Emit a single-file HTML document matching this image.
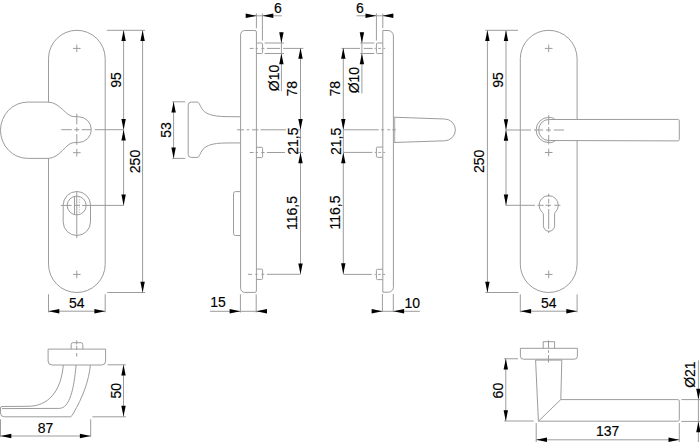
<!DOCTYPE html>
<html><head><meta charset="utf-8"><style>
html,body{margin:0;padding:0;background:#fff;}
svg{display:block;}
text{font-family:"Liberation Sans",sans-serif;fill:#000;stroke:#000;stroke-width:0.15px;}
</style></head><body>
<svg width="700" height="442" viewBox="0 0 700 442">
<rect width="700" height="442" fill="#fff"/>
<path d="M48.5,58.650000000000006 A28.35,28.35 0 0 1 105.2,58.650000000000006 L105.2,264.15 A28.35,28.35 0 0 1 48.5,264.15 Z" stroke="#9c9c9c" stroke-width="1.0" fill="none"/>
<path d="M48,102.1 L27.7,102.1 A27.2,28.15 0 0 0 27.7,158.4 L48,158.4 C60,158.4 66,142.6 73.7,142.6 L78.4,142.5 A12.9,12.9 0 0 0 78.4,116.7 L73.7,116.6 C66,116.6 60,102.1 48,102.1 Z" stroke="#9c9c9c" stroke-width="1.0" fill="#fff"/>
<line x1="73.0" y1="48.4" x2="80.6" y2="48.4" stroke="#9c9c9c" stroke-width="1.0"/>
<line x1="76.8" y1="44.6" x2="76.8" y2="52.199999999999996" stroke="#9c9c9c" stroke-width="1.0"/>
<line x1="73.0" y1="152.7" x2="80.6" y2="152.7" stroke="#9c9c9c" stroke-width="1.0"/>
<line x1="76.8" y1="148.89999999999998" x2="76.8" y2="156.5" stroke="#9c9c9c" stroke-width="1.0"/>
<line x1="73.0" y1="274.4" x2="80.6" y2="274.4" stroke="#9c9c9c" stroke-width="1.0"/>
<line x1="76.8" y1="270.59999999999997" x2="76.8" y2="278.2" stroke="#9c9c9c" stroke-width="1.0"/>
<line x1="61.2" y1="129.7" x2="71.8" y2="129.7" stroke="#9c9c9c" stroke-width="1.0"/>
<line x1="74.3" y1="129.7" x2="79.3" y2="129.7" stroke="#9c9c9c" stroke-width="1.0"/>
<line x1="81.7" y1="129.7" x2="91" y2="129.7" stroke="#9c9c9c" stroke-width="1.0"/>
<line x1="94.8" y1="129.7" x2="123.6" y2="129.7" stroke="#9c9c9c" stroke-width="1.0"/>
<line x1="76.8" y1="113.7" x2="76.8" y2="124.3" stroke="#9c9c9c" stroke-width="1.0"/>
<line x1="76.8" y1="127.4" x2="76.8" y2="131.7" stroke="#9c9c9c" stroke-width="1.0"/>
<line x1="76.8" y1="134.2" x2="76.8" y2="144.8" stroke="#9c9c9c" stroke-width="1.0"/>
<path d="M63.2,205.15 A13.649999999999999,13.649999999999999 0 0 1 90.5,205.15 L90.5,221.85 A13.649999999999999,13.649999999999999 0 0 1 63.2,221.85 Z" stroke="#9c9c9c" stroke-width="1.0" fill="none"/>
<path d="M67.2,205.5 a9.5,9.4 0 1 0 19,0 a9.5,9.4 0 1 0 -19,0" stroke="#9c9c9c" stroke-width="1.0" fill="none"/>
<line x1="74.5" y1="196.3" x2="74.5" y2="214.8" stroke="#9c9c9c" stroke-width="1.0"/>
<line x1="79.3" y1="196.5" x2="79.3" y2="214.5" stroke="#c8c8c8" stroke-width="1.0" stroke-dasharray="1.5,1"/>
<line x1="76.75" y1="191.2" x2="76.75" y2="238" stroke="#9c9c9c" stroke-width="1.0"/>
<line x1="60.8" y1="205.4" x2="71.7" y2="205.4" stroke="#9c9c9c" stroke-width="1.0"/>
<line x1="73.9" y1="205.4" x2="79.8" y2="205.4" stroke="#9c9c9c" stroke-width="1.0"/>
<line x1="82.1" y1="205.4" x2="123.6" y2="205.4" stroke="#9c9c9c" stroke-width="1.0"/>
<line x1="107" y1="30.3" x2="145" y2="30.3" stroke="#9c9c9c" stroke-width="1.0"/>
<line x1="107.3" y1="292.5" x2="145" y2="292.5" stroke="#9c9c9c" stroke-width="1.0"/>
<line x1="123.6" y1="30.3" x2="123.6" y2="205.4" stroke="#9c9c9c" stroke-width="1.0"/>
<line x1="142.6" y1="30.3" x2="142.6" y2="292.5" stroke="#9c9c9c" stroke-width="1.0"/>
<polygon points="123.60,30.30 121.40,41.10 125.80,41.10" fill="#000"/>
<polygon points="123.60,129.80 121.40,119.00 125.80,119.00" fill="#000"/>
<polygon points="123.60,129.80 121.40,140.60 125.80,140.60" fill="#000"/>
<polygon points="123.60,205.40 121.40,194.60 125.80,194.60" fill="#000"/>
<polygon points="142.60,30.30 140.40,41.10 144.80,41.10" fill="#000"/>
<polygon points="142.60,292.50 140.40,281.70 144.80,281.70" fill="#000"/>
<text x="0" y="0" transform="translate(115.7,80) rotate(-90)" font-size="14" text-anchor="middle" dy="0.36em">95</text>
<text x="0" y="0" transform="translate(135,161.5) rotate(-90)" font-size="14" text-anchor="middle" dy="0.36em">250</text>
<line x1="48.5" y1="294.3" x2="48.5" y2="312.4" stroke="#9c9c9c" stroke-width="1.0"/>
<line x1="105.2" y1="294.3" x2="105.2" y2="312.4" stroke="#9c9c9c" stroke-width="1.0"/>
<line x1="48.5" y1="311.2" x2="105.2" y2="311.2" stroke="#9c9c9c" stroke-width="1.0"/>
<polygon points="48.50,311.20 59.30,309.00 59.30,313.40" fill="#000"/>
<polygon points="105.20,311.20 94.40,309.00 94.40,313.40" fill="#000"/>
<text x="76.8" y="302.8" font-size="14" text-anchor="middle" dy="0.36em">54</text>
<path d="M256.4,32 Q256.4,30.5 254.9,30.5 L244.8,30.5 A4.2,4.2 0 0 0 240.6,34.7 L240.6,288.2 A4.2,4.2 0 0 0 244.8,292.4 L254.9,292.4 Q256.4,292.4 256.4,290.9 Z" stroke="#9c9c9c" stroke-width="1.0" fill="none"/>
<path d="M256.4,43 L261.6,43 Q262.6,43 262.6,44 L262.6,52.5 Q262.6,53.5 261.6,53.5 L256.4,53.5" stroke="#9c9c9c" stroke-width="1.0" fill="none"/>
<path d="M256.4,147.3 L261.6,147.3 Q262.6,147.3 262.6,148.3 L262.6,156.6 Q262.6,157.6 261.6,157.6 L256.4,157.6" stroke="#9c9c9c" stroke-width="1.0" fill="none"/>
<path d="M256.4,269.1 L261.6,269.1 Q262.6,269.1 262.6,270.1 L262.6,278.4 Q262.6,279.4 261.6,279.4 L256.4,279.4" stroke="#9c9c9c" stroke-width="1.0" fill="none"/>
<line x1="249.7" y1="48.4" x2="253.6" y2="48.4" stroke="#9c9c9c" stroke-width="1.0"/>
<line x1="255.7" y1="48.4" x2="257.9" y2="48.4" stroke="#9c9c9c" stroke-width="1.0"/>
<line x1="261.3" y1="48.4" x2="264.3" y2="48.4" stroke="#9c9c9c" stroke-width="1.0"/>
<line x1="266.9" y1="48.4" x2="280.1" y2="48.4" stroke="#9c9c9c" stroke-width="1.0"/>
<line x1="283.1" y1="48.4" x2="303.3" y2="48.4" stroke="#9c9c9c" stroke-width="1.0"/>
<line x1="249.7" y1="152.5" x2="253.6" y2="152.5" stroke="#9c9c9c" stroke-width="1.0"/>
<line x1="255.7" y1="152.5" x2="257.9" y2="152.5" stroke="#9c9c9c" stroke-width="1.0"/>
<line x1="261.3" y1="152.5" x2="264.5" y2="152.5" stroke="#9c9c9c" stroke-width="1.0"/>
<line x1="266.9" y1="152.5" x2="285" y2="152.5" stroke="#9c9c9c" stroke-width="1.0"/>
<line x1="298" y1="152.5" x2="303" y2="152.5" stroke="#9c9c9c" stroke-width="1.0"/>
<line x1="247.9" y1="274.3" x2="252.1" y2="274.3" stroke="#9c9c9c" stroke-width="1.0"/>
<line x1="255.3" y1="274.3" x2="257.6" y2="274.3" stroke="#9c9c9c" stroke-width="1.0"/>
<line x1="261.4" y1="274.3" x2="264.3" y2="274.3" stroke="#9c9c9c" stroke-width="1.0"/>
<line x1="266.9" y1="274.3" x2="300.4" y2="274.3" stroke="#9c9c9c" stroke-width="1.0"/>
<path d="M240.6,191.6 L235.5,191.6 Q233.5,191.6 233.5,193.6 L233.5,233.5 Q233.5,235.5 235.5,235.5 L240.6,235.5" stroke="#9c9c9c" stroke-width="1.0" fill="none"/>
<path d="M240.5,116.8 L225,116.6 C216,116.3 211,115.3 207,113.3 C200.5,110 200,103 197.9,102.1 L191.2,102.1 Q188.2,102.1 188.2,105.1 L188.2,154.4 Q188.2,157.4 191.2,157.4 L197.9,157.4 C200,156.5 200.5,149.5 207,146.2 C211,144.2 216,143.2 225,143.0 L240.5,142.9" stroke="#9c9c9c" stroke-width="1.0" fill="none"/>
<line x1="237" y1="129.8" x2="243.9" y2="129.8" stroke="#9c9c9c" stroke-width="1.0"/>
<line x1="246.6" y1="129.8" x2="249.3" y2="129.8" stroke="#9c9c9c" stroke-width="1.0"/>
<line x1="252" y1="129.8" x2="258.4" y2="129.8" stroke="#9c9c9c" stroke-width="1.0"/>
<line x1="260.5" y1="129.8" x2="286" y2="129.8" stroke="#9c9c9c" stroke-width="1.0"/>
<line x1="298" y1="129.8" x2="300.5" y2="129.8" stroke="#9c9c9c" stroke-width="1.0"/>
<line x1="256.4" y1="13.5" x2="256.4" y2="28.2" stroke="#9c9c9c" stroke-width="1.0"/>
<line x1="262.4" y1="13.5" x2="262.4" y2="40.6" stroke="#9c9c9c" stroke-width="1.0"/>
<line x1="246" y1="15.8" x2="281.8" y2="15.8" stroke="#9c9c9c" stroke-width="1.0"/>
<polygon points="256.50,15.80 245.70,13.60 245.70,18.00" fill="#000"/>
<polygon points="262.50,15.80 273.30,13.60 273.30,18.00" fill="#000"/>
<text x="277.8" y="8.2" font-size="14" text-anchor="middle" dy="0.36em">6</text>
<line x1="264.7" y1="43" x2="284" y2="43" stroke="#9c9c9c" stroke-width="1.0"/>
<line x1="264.7" y1="53.5" x2="284" y2="53.5" stroke="#9c9c9c" stroke-width="1.0"/>
<line x1="281.4" y1="32" x2="281.4" y2="91.2" stroke="#9c9c9c" stroke-width="1.0"/>
<polygon points="281.40,43.00 279.20,32.20 283.60,32.20" fill="#000"/>
<polygon points="281.40,53.50 279.20,64.30 283.60,64.30" fill="#000"/>
<text x="0" y="0" transform="translate(274.3,78) rotate(-90)" font-size="14" text-anchor="middle" dy="0.36em">Ø10</text>
<line x1="300.5" y1="48" x2="300.5" y2="274.2" stroke="#9c9c9c" stroke-width="1.0"/>
<polygon points="300.50,48.00 298.30,58.80 302.70,58.80" fill="#000"/>
<polygon points="300.50,129.80 298.30,119.00 302.70,119.00" fill="#000"/>
<polygon points="300.50,152.50 298.30,163.30 302.70,163.30" fill="#000"/>
<polygon points="300.50,274.20 298.30,263.40 302.70,263.40" fill="#000"/>
<text x="0" y="0" transform="translate(291.6,88.7) rotate(-90)" font-size="14" text-anchor="middle" dy="0.36em">78</text>
<text x="0" y="0" transform="translate(292.9,141.2) rotate(-90)" font-size="14" text-anchor="middle" dy="0.36em">21,5</text>
<text x="0" y="0" transform="translate(292.1,213) rotate(-90)" font-size="14" text-anchor="middle" dy="0.36em">116,5</text>
<line x1="240.4" y1="294.3" x2="240.4" y2="312.5" stroke="#9c9c9c" stroke-width="1.0"/>
<line x1="256.2" y1="294.3" x2="256.2" y2="312.5" stroke="#9c9c9c" stroke-width="1.0"/>
<line x1="210.1" y1="311.3" x2="266.5" y2="311.3" stroke="#9c9c9c" stroke-width="1.0"/>
<polygon points="240.40,311.30 229.60,309.10 229.60,313.50" fill="#000"/>
<polygon points="256.20,311.30 267.00,309.10 267.00,313.50" fill="#000"/>
<text x="218" y="302.3" font-size="14" text-anchor="middle" dy="0.36em">15</text>
<line x1="173.6" y1="101.8" x2="173.6" y2="158.4" stroke="#9c9c9c" stroke-width="1.0"/>
<line x1="172.3" y1="101.8" x2="185.3" y2="101.8" stroke="#9c9c9c" stroke-width="1.0"/>
<line x1="172.3" y1="158.4" x2="185.3" y2="158.4" stroke="#9c9c9c" stroke-width="1.0"/>
<polygon points="173.60,101.80 171.40,112.60 175.80,112.60" fill="#000"/>
<polygon points="173.60,158.40 171.40,147.60 175.80,147.60" fill="#000"/>
<text x="0" y="0" transform="translate(166.3,130) rotate(-90)" font-size="14" text-anchor="middle" dy="0.36em">53</text>
<path d="M382.8,30.5 L388,30.5 A5.4,5.4 0 0 1 393.4,35.9 L393.4,287.3 A4.9,4.9 0 0 1 388.5,292.2 L382.8,292.2 Z" stroke="#9c9c9c" stroke-width="1.0" fill="none"/>
<path d="M382.8,43 L377.4,43 Q376.4,43 376.4,44 L376.4,52.5 Q376.4,53.5 377.4,53.5 L382.8,53.5" stroke="#9c9c9c" stroke-width="1.0" fill="none"/>
<path d="M382.8,147.1 L377.4,147.1 Q376.4,147.1 376.4,148.1 L376.4,156.3 Q376.4,157.3 377.4,157.3 L382.8,157.3" stroke="#9c9c9c" stroke-width="1.0" fill="none"/>
<path d="M382.8,269.3 L377.4,269.3 Q376.4,269.3 376.4,270.3 L376.4,278.6 Q376.4,279.6 377.4,279.6 L382.8,279.6" stroke="#9c9c9c" stroke-width="1.0" fill="none"/>
<path d="M393.5,117.2 L444.5,119 A10.9,10.9 0 0 1 444.5,140.8 L393.5,142.5" stroke="#9c9c9c" stroke-width="1.0" fill="none"/>
<line x1="394.7" y1="117.5" x2="394.7" y2="142.2" stroke="#aaa" stroke-width="1.0"/>
<line x1="341.4" y1="48.4" x2="359.9" y2="48.4" stroke="#9c9c9c" stroke-width="1.0"/>
<line x1="363.7" y1="48.4" x2="372.7" y2="48.4" stroke="#9c9c9c" stroke-width="1.0"/>
<line x1="374.4" y1="48.4" x2="375.7" y2="48.4" stroke="#9c9c9c" stroke-width="1.0"/>
<line x1="378.3" y1="48.4" x2="380.8" y2="48.4" stroke="#9c9c9c" stroke-width="1.0"/>
<line x1="383.4" y1="48.4" x2="385.1" y2="48.4" stroke="#9c9c9c" stroke-width="1.0"/>
<line x1="343.4" y1="129.8" x2="378.7" y2="129.8" stroke="#9c9c9c" stroke-width="1.0"/>
<line x1="381" y1="129.8" x2="384.2" y2="129.8" stroke="#9c9c9c" stroke-width="1.0"/>
<line x1="387.3" y1="129.8" x2="390" y2="129.8" stroke="#9c9c9c" stroke-width="1.0"/>
<line x1="392.3" y1="129.8" x2="395.9" y2="129.8" stroke="#9c9c9c" stroke-width="1.0"/>
<line x1="343.4" y1="152.4" x2="372.4" y2="152.4" stroke="#9c9c9c" stroke-width="1.0"/>
<line x1="374.7" y1="152.4" x2="376" y2="152.4" stroke="#9c9c9c" stroke-width="1.0"/>
<line x1="378.3" y1="152.4" x2="381" y2="152.4" stroke="#9c9c9c" stroke-width="1.0"/>
<line x1="383.2" y1="152.4" x2="385.1" y2="152.4" stroke="#9c9c9c" stroke-width="1.0"/>
<line x1="343.4" y1="274.4" x2="371.8" y2="274.4" stroke="#9c9c9c" stroke-width="1.0"/>
<line x1="374.4" y1="274.4" x2="375.7" y2="274.4" stroke="#9c9c9c" stroke-width="1.0"/>
<line x1="378.3" y1="274.4" x2="380.8" y2="274.4" stroke="#9c9c9c" stroke-width="1.0"/>
<line x1="383" y1="274.4" x2="385.1" y2="274.4" stroke="#9c9c9c" stroke-width="1.0"/>
<line x1="382.8" y1="13.5" x2="382.8" y2="28.2" stroke="#9c9c9c" stroke-width="1.0"/>
<line x1="376.4" y1="13.5" x2="376.4" y2="40.6" stroke="#9c9c9c" stroke-width="1.0"/>
<line x1="356.5" y1="15.8" x2="393.7" y2="15.8" stroke="#9c9c9c" stroke-width="1.0"/>
<polygon points="376.30,15.80 365.50,13.60 365.50,18.00" fill="#000"/>
<polygon points="382.50,15.80 393.30,13.60 393.30,18.00" fill="#000"/>
<text x="360" y="8.2" font-size="14" text-anchor="middle" dy="0.36em">6</text>
<line x1="360.3" y1="43" x2="374.3" y2="43" stroke="#9c9c9c" stroke-width="1.0"/>
<line x1="360.3" y1="53.5" x2="374.3" y2="53.5" stroke="#9c9c9c" stroke-width="1.0"/>
<line x1="361.9" y1="32" x2="361.9" y2="93.5" stroke="#9c9c9c" stroke-width="1.0"/>
<polygon points="361.90,43.00 359.70,32.20 364.10,32.20" fill="#000"/>
<polygon points="361.90,53.50 359.70,64.30 364.10,64.30" fill="#000"/>
<text x="0" y="0" transform="translate(354,80.1) rotate(-90)" font-size="14" text-anchor="middle" dy="0.36em">Ø10</text>
<line x1="343.3" y1="48" x2="343.3" y2="274" stroke="#9c9c9c" stroke-width="1.0"/>
<polygon points="343.30,48.00 341.10,58.80 345.50,58.80" fill="#000"/>
<polygon points="343.30,129.80 341.10,119.00 345.50,119.00" fill="#000"/>
<polygon points="343.30,152.50 341.10,163.30 345.50,163.30" fill="#000"/>
<polygon points="343.30,274.00 341.10,263.20 345.50,263.20" fill="#000"/>
<text x="0" y="0" transform="translate(335,88.7) rotate(-90)" font-size="14" text-anchor="middle" dy="0.36em">78</text>
<text x="0" y="0" transform="translate(336,141.4) rotate(-90)" font-size="14" text-anchor="middle" dy="0.36em">21,5</text>
<text x="0" y="0" transform="translate(335.4,212.5) rotate(-90)" font-size="14" text-anchor="middle" dy="0.36em">116,5</text>
<line x1="382.4" y1="294" x2="382.4" y2="312" stroke="#9c9c9c" stroke-width="1.0"/>
<line x1="393.3" y1="294" x2="393.3" y2="312" stroke="#9c9c9c" stroke-width="1.0"/>
<line x1="372.5" y1="311.3" x2="419.8" y2="311.3" stroke="#9c9c9c" stroke-width="1.0"/>
<polygon points="382.40,311.30 371.60,309.10 371.60,313.50" fill="#000"/>
<polygon points="393.30,311.30 404.10,309.10 404.10,313.50" fill="#000"/>
<text x="412.3" y="302.8" font-size="14" text-anchor="middle" dy="0.36em">10</text>
<path d="M520.3,58.70000000000003 A28.400000000000034,28.400000000000034 0 0 1 577.1,58.70000000000003 L577.1,264.09999999999997 A28.400000000000034,28.400000000000034 0 0 1 520.3,264.09999999999997 Z" stroke="#9c9c9c" stroke-width="1.0" fill="none"/>
<line x1="544.9000000000001" y1="48.4" x2="552.5" y2="48.4" stroke="#9c9c9c" stroke-width="1.0"/>
<line x1="548.7" y1="44.6" x2="548.7" y2="52.199999999999996" stroke="#9c9c9c" stroke-width="1.0"/>
<line x1="544.9000000000001" y1="152.5" x2="552.5" y2="152.5" stroke="#9c9c9c" stroke-width="1.0"/>
<line x1="548.7" y1="148.7" x2="548.7" y2="156.3" stroke="#9c9c9c" stroke-width="1.0"/>
<line x1="544.9000000000001" y1="274.4" x2="552.5" y2="274.4" stroke="#9c9c9c" stroke-width="1.0"/>
<line x1="548.7" y1="270.59999999999997" x2="548.7" y2="278.2" stroke="#9c9c9c" stroke-width="1.0"/>
<path d="M677.8,119.4 L548.7,119.5 A10,10.5 0 0 0 548.7,140.5 L677.8,140.9 Q679.3,140.9 679.3,139.4 L679.3,120.9 Q679.3,119.4 677.8,119.4 Z" stroke="#9c9c9c" stroke-width="1.0" fill="#fff"/>
<path d="M555,119.4 C553,117.6 551,117.4 548.7,117.4 A12.6,12.6 0 0 0 548.7,142.6 C551,142.6 553,142.4 555,140.9" stroke="#9c9c9c" stroke-width="1.0" fill="none"/>
<line x1="548.7" y1="115.2" x2="548.7" y2="124.7" stroke="#9c9c9c" stroke-width="1.0"/>
<line x1="548.7" y1="127" x2="548.7" y2="132" stroke="#9c9c9c" stroke-width="1.0"/>
<line x1="548.7" y1="135" x2="548.7" y2="144.5" stroke="#9c9c9c" stroke-width="1.0"/>
<line x1="505.6" y1="130" x2="531" y2="130" stroke="#9c9c9c" stroke-width="1.0"/>
<line x1="534" y1="130" x2="543.1" y2="130" stroke="#9c9c9c" stroke-width="1.0"/>
<line x1="545.9" y1="130" x2="551" y2="130" stroke="#9c9c9c" stroke-width="1.0"/>
<line x1="553.8" y1="130" x2="564" y2="130" stroke="#9c9c9c" stroke-width="1.0"/>
<path d="M543.4,215 Q543.4,213.4 542.3,212.4 A9.6,9.6 0 1 1 555.1,212.4 Q554.6,213.4 554.6,215 L554.6,225.7 A5.6,5.6 0 0 1 543.4,225.7 Z" stroke="#9c9c9c" stroke-width="1.0" fill="none"/>
<line x1="548.7" y1="193.7" x2="548.7" y2="197" stroke="#9c9c9c" stroke-width="1.0"/>
<line x1="548.7" y1="199" x2="548.7" y2="203.5" stroke="#9c9c9c" stroke-width="1.0"/>
<line x1="548.7" y1="204.5" x2="548.7" y2="207" stroke="#9c9c9c" stroke-width="1.0"/>
<line x1="548.7" y1="209" x2="548.7" y2="229" stroke="#9c9c9c" stroke-width="1.0"/>
<line x1="548.7" y1="231" x2="548.7" y2="233" stroke="#9c9c9c" stroke-width="1.0"/>
<line x1="505.6" y1="205.3" x2="535" y2="205.3" stroke="#9c9c9c" stroke-width="1.0"/>
<line x1="537.4" y1="205.3" x2="543.7" y2="205.3" stroke="#9c9c9c" stroke-width="1.0"/>
<line x1="545.5" y1="205.3" x2="551.1" y2="205.3" stroke="#9c9c9c" stroke-width="1.0"/>
<line x1="554.2" y1="205.3" x2="560.4" y2="205.3" stroke="#9c9c9c" stroke-width="1.0"/>
<line x1="485.4" y1="30.3" x2="518" y2="30.3" stroke="#9c9c9c" stroke-width="1.0"/>
<line x1="485.4" y1="292.5" x2="518.5" y2="292.5" stroke="#9c9c9c" stroke-width="1.0"/>
<line x1="506" y1="30.3" x2="506" y2="205.2" stroke="#9c9c9c" stroke-width="1.0"/>
<line x1="487.4" y1="30.3" x2="487.4" y2="292.5" stroke="#9c9c9c" stroke-width="1.0"/>
<polygon points="506.00,30.30 503.80,41.10 508.20,41.10" fill="#000"/>
<polygon points="506.00,130.00 503.80,119.20 508.20,119.20" fill="#000"/>
<polygon points="506.00,130.00 503.80,140.80 508.20,140.80" fill="#000"/>
<polygon points="506.00,205.20 503.80,194.40 508.20,194.40" fill="#000"/>
<polygon points="487.40,30.30 485.20,41.10 489.60,41.10" fill="#000"/>
<polygon points="487.40,292.50 485.20,281.70 489.60,281.70" fill="#000"/>
<text x="0" y="0" transform="translate(498,80) rotate(-90)" font-size="14" text-anchor="middle" dy="0.36em">95</text>
<text x="0" y="0" transform="translate(479,161.3) rotate(-90)" font-size="14" text-anchor="middle" dy="0.36em">250</text>
<line x1="520.3" y1="294.3" x2="520.3" y2="312.4" stroke="#9c9c9c" stroke-width="1.0"/>
<line x1="577.1" y1="294.3" x2="577.1" y2="312.4" stroke="#9c9c9c" stroke-width="1.0"/>
<line x1="520.3" y1="311.2" x2="577.1" y2="311.2" stroke="#9c9c9c" stroke-width="1.0"/>
<polygon points="520.30,311.20 531.10,309.00 531.10,313.40" fill="#000"/>
<polygon points="577.10,311.20 566.30,309.00 566.30,313.40" fill="#000"/>
<text x="548.7" y="302.8" font-size="14" text-anchor="middle" dy="0.36em">54</text>
<path d="M48.1,349.1 L105.6,349.1 L105.6,361 Q105.6,365 101.6,365 L52.1,365 Q48.1,365 48.1,361 Z" stroke="#9c9c9c" stroke-width="1.0" fill="none"/>
<path d="M71.2,349.1 L71.2,344.4 Q71.2,342.7 72.9,342.7 L81.1,342.7 Q82.8,342.7 82.8,344.4 L82.8,349.1" stroke="#9c9c9c" stroke-width="1.0" fill="none"/>
<line x1="76.7" y1="340.3" x2="76.7" y2="344.5" stroke="#9c9c9c" stroke-width="1.0"/>
<line x1="76.7" y1="346" x2="76.7" y2="350" stroke="#9c9c9c" stroke-width="1.0"/>
<line x1="76.7" y1="353" x2="76.7" y2="356.6" stroke="#9c9c9c" stroke-width="1.0"/>
<path d="M63.3,365 C61,392 48,406.2 28,406.3 L2,406.5 Q0.5,406.5 0.5,408 L0.5,413 Q0.5,416.8 4.3,416.8 L70.7,416.8 Q72,416 73,414 C83,397 89,380 90.4,365" stroke="#9c9c9c" stroke-width="1.0" fill="none"/>
<path d="M76.1,365 C74,388 70,408.3 59.2,408.4 L2,408.6" stroke="#9c9c9c" stroke-width="1.0" fill="none"/>
<line x1="107.7" y1="364.8" x2="125.9" y2="364.8" stroke="#9c9c9c" stroke-width="1.0"/>
<line x1="92.4" y1="416.8" x2="125.9" y2="416.8" stroke="#9c9c9c" stroke-width="1.0"/>
<line x1="123.5" y1="364.8" x2="123.5" y2="416.5" stroke="#9c9c9c" stroke-width="1.0"/>
<polygon points="123.50,364.80 121.30,375.60 125.70,375.60" fill="#000"/>
<polygon points="123.50,416.50 121.30,405.70 125.70,405.70" fill="#000"/>
<text x="0" y="0" transform="translate(115.9,390.8) rotate(-90)" font-size="14" text-anchor="middle" dy="0.36em">50</text>
<line x1="0.5" y1="419.3" x2="0.5" y2="437" stroke="#9c9c9c" stroke-width="1.0"/>
<line x1="90.7" y1="419.3" x2="90.7" y2="437" stroke="#9c9c9c" stroke-width="1.0"/>
<line x1="0.5" y1="436" x2="90.7" y2="436" stroke="#9c9c9c" stroke-width="1.0"/>
<polygon points="0.50,436.00 11.30,433.80 11.30,438.20" fill="#000"/>
<polygon points="90.70,436.00 79.90,433.80 79.90,438.20" fill="#000"/>
<text x="45.6" y="427.9" font-size="14" text-anchor="middle" dy="0.36em">87</text>
<path d="M520.4,348.3 L577.4,348.3 L577.4,356.2 Q577.4,359.2 574.4,359.2 L523.4,359.2 Q520.4,359.2 520.4,356.2 Z" stroke="#9c9c9c" stroke-width="1.0" fill="none"/>
<path d="M543.2,348.4 L543.2,341.7 L554.6,341.7 L554.6,348.4" stroke="#9c9c9c" stroke-width="1.0" fill="none"/>
<line x1="548.5" y1="340.4" x2="548.5" y2="348" stroke="#9c9c9c" stroke-width="1.0"/>
<line x1="548.5" y1="350.3" x2="548.5" y2="352.8" stroke="#9c9c9c" stroke-width="1.0"/>
<line x1="548.5" y1="355" x2="548.5" y2="362.6" stroke="#9c9c9c" stroke-width="1.0"/>
<line x1="535.6" y1="360.1" x2="561.8" y2="360.1" stroke="#9c9c9c" stroke-width="1.0"/>
<path d="M535.6,360.1 L538.4,421.2 L677.8,421.2 Q679.3,421.2 679.3,419.7 L679.3,401.1 Q679.3,399.6 677.8,399.6 L560.8,399.6 L561.8,360.1" stroke="#9c9c9c" stroke-width="1.0" fill="none"/>
<line x1="539" y1="420.6" x2="560.8" y2="399.6" stroke="#9c9c9c" stroke-width="1.0"/>
<line x1="504.2" y1="358.75" x2="518" y2="358.75" stroke="#9c9c9c" stroke-width="1.0"/>
<line x1="504.2" y1="421" x2="533.7" y2="421" stroke="#9c9c9c" stroke-width="1.0"/>
<line x1="505.8" y1="358.75" x2="505.8" y2="421" stroke="#9c9c9c" stroke-width="1.0"/>
<polygon points="505.80,358.75 503.60,369.55 508.00,369.55" fill="#000"/>
<polygon points="505.80,421.00 503.60,410.20 508.00,410.20" fill="#000"/>
<text x="0" y="0" transform="translate(498.3,390.6) rotate(-90)" font-size="14" text-anchor="middle" dy="0.36em">60</text>
<line x1="536.2" y1="423" x2="536.2" y2="442" stroke="#9c9c9c" stroke-width="1.0"/>
<line x1="679.3" y1="423" x2="679.3" y2="442" stroke="#9c9c9c" stroke-width="1.0"/>
<line x1="536.2" y1="439.8" x2="679.3" y2="439.8" stroke="#9c9c9c" stroke-width="1.0"/>
<polygon points="536.20,439.80 547.00,437.60 547.00,442.00" fill="#000"/>
<polygon points="679.30,439.80 668.50,437.60 668.50,442.00" fill="#000"/>
<text x="607.7" y="431.3" font-size="14" text-anchor="middle" dy="0.36em">137</text>
<line x1="681.4" y1="399.6" x2="700" y2="399.6" stroke="#9c9c9c" stroke-width="1.0"/>
<line x1="681.4" y1="421.4" x2="700" y2="421.4" stroke="#9c9c9c" stroke-width="1.0"/>
<line x1="698.4" y1="360.4" x2="698.4" y2="442" stroke="#9c9c9c" stroke-width="1.0"/>
<polygon points="698.40,399.60 696.20,388.80 700.60,388.80" fill="#000"/>
<polygon points="698.40,421.40 696.20,432.20 700.60,432.20" fill="#000"/>
<text x="0" y="0" transform="translate(690,374.6) rotate(-90)" font-size="14" text-anchor="middle" dy="0.36em">Ø21</text>
</svg>
</body></html>
